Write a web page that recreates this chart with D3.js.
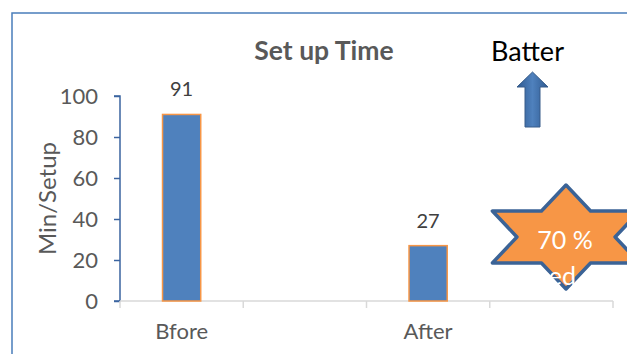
<!DOCTYPE html>
<html>
<head>
<meta charset="utf-8">
<script src="https://cdn.jsdelivr.net/npm/d3@7/dist/d3.min.js"></script>
<style>
  html, body { margin: 0; padding: 0; background: #ffffff; }
  svg { display: block; font-family: Lato, "Open Sans", sans-serif; }
</style>
</head>
<body>
<svg id="chart" width="627" height="354"></svg>
<script>
// Set-up time per changeover, before and after the improvement
const categories = ["Bfore", "", "After", ""];
const setupMinutes = [91, null, 27, null];
const yTicks = [0, 20, 40, 60, 80, 100];
const titleText = "Set up Time";
const yLabel = "Min/Setup";
const noteText = "Batter";
const badgeLines = ["70 %", "Reduced"];

const W = 627, H = 354;
const margin = { top: 96, right: 14, bottom: 53, left: 120 };

const svg = d3.select("#chart");

// chart frame
svg.append("rect")
  .attr("x", 12).attr("y", 13)
  .attr("width", 700).attr("height", 400)
  .attr("fill", "none")
  .attr("stroke", "#4a7ebb")
  .attr("stroke-width", 1.5);

const x = d3.scaleBand()
  .domain(d3.range(categories.length))
  .range([margin.left, W - margin.right])
  .padding(0);

const y = d3.scaleLinear()
  .domain([0, 100])
  .range([H - margin.bottom, margin.top]);

// title
svg.append("text")
  .attr("x", 324).attr("y", 60)
  .attr("text-anchor", "middle")
  .attr("font-size", 26.5).attr("font-weight", "bold")
  .attr("fill", "#595959")
  .text(titleText);

// y axis
const yAxis = svg.append("g")
  .attr("transform", `translate(${margin.left},0)`)
  .call(d3.axisLeft(y).tickValues(yTicks).tickSize(6).tickPadding(16));
yAxis.select(".domain").attr("stroke", "#3b64a0").attr("stroke-width", 1.5)
  .attr("d", `M-6,${y(100)}H0V${y(0)}H-6`);
yAxis.selectAll(".tick line").attr("stroke", "#3b64a0").attr("stroke-width", 1.5);
yAxis.selectAll(".tick text")
  .attr("font-size", 22).attr("fill", "#595959")
  .attr("font-family", "Lato, 'Open Sans', sans-serif");

// y axis title
svg.append("text")
  .attr("transform", `translate(56,${(y(0) + y(100)) / 2}) rotate(-90)`)
  .attr("text-anchor", "middle")
  .attr("font-size", 24).attr("fill", "#595959")
  .text(yLabel);

// x axis: baseline plus category boundary ticks
const xAxis = svg.append("g");
xAxis.append("line")
  .attr("x1", x.range()[0]).attr("x2", x.range()[1])
  .attr("y1", y(0)).attr("y2", y(0))
  .attr("stroke", "#d9d9d9").attr("stroke-width", 1.5);
const bounds = d3.range(categories.length).map(i => x(i)).concat([x.range()[1]]);
xAxis.selectAll("line.bound")
  .data(bounds)
  .join("line")
  .attr("class", "bound")
  .attr("x1", d => d).attr("x2", d => d)
  .attr("y1", y(0)).attr("y2", y(0) + 7)
  .attr("stroke", "#d9d9d9").attr("stroke-width", 1.5);
xAxis.selectAll("text")
  .data(categories)
  .join("text")
  .attr("x", (d, i) => x(i) + x.bandwidth() / 2)
  .attr("y", y(0) + 38)
  .attr("text-anchor", "middle")
  .attr("font-size", 22).attr("fill", "#595959")
  .text(d => d);

// bars
const barW = x.bandwidth() * 0.31;
const barData = setupMinutes.map((v, i) => ({ i, v })).filter(d => d.v != null);
svg.append("g").selectAll("rect")
  .data(barData)
  .join("rect")
  .attr("x", d => x(d.i) + (x.bandwidth() - barW) / 2)
  .attr("y", d => y(d.v))
  .attr("width", barW)
  .attr("height", d => y(0) - y(d.v))
  .attr("fill", "#4f81bd")
  .attr("stroke", "#f79646")
  .attr("stroke-width", 1.5);

// value labels
svg.append("g").selectAll("text")
  .data(barData)
  .join("text")
  .attr("x", d => x(d.i) + x.bandwidth() / 2)
  .attr("y", d => y(d.v) - 18)
  .attr("text-anchor", "middle")
  .attr("font-size", 20).attr("fill", "#404040")
  .text(d => d.v);

// "Batter" note with upward arrow
svg.append("text")
  .attr("x", 527.5).attr("y", 61)
  .attr("text-anchor", "middle")
  .attr("font-size", 27).attr("fill", "#000000")
  .text(noteText);

const defs = svg.append("defs");
const grad = defs.append("linearGradient").attr("id", "arrowFill")
  .attr("x1", "0%").attr("x2", "100%").attr("y1", "0%").attr("y2", "0%");
grad.append("stop").attr("offset", "0%").attr("stop-color", "#2f5a91");
grad.append("stop").attr("offset", "50%").attr("stop-color", "#4f81bd");
grad.append("stop").attr("offset", "100%").attr("stop-color", "#2f5a91");

const ax = 532.5;
svg.append("path")
  .attr("d", d3.line()([
    [ax, 72], [ax + 15.5, 87], [ax + 7.5, 87], [ax + 7.5, 127],
    [ax - 7.5, 127], [ax - 7.5, 87], [ax - 15.5, 87]
  ]) + "Z")
  .attr("fill", "url(#arrowFill)")
  .attr("stroke", "#385d8a")
  .attr("stroke-width", 1);

// six-pointed badge
const cx = 566, cy = 237, rx = 85, ry = 52;
const starPts = d3.range(12).map(k => {
  const a = -Math.PI / 2 + k * Math.PI / 6;
  const s = k % 2 === 0 ? 1 : 1 / Math.sqrt(3);
  return [cx + rx * s * Math.cos(a), cy + ry * s * Math.sin(a)];
});
svg.append("path")
  .attr("d", d3.line()(starPts) + "Z")
  .attr("fill", "#f79646")
  .attr("stroke", "#3b6396")
  .attr("stroke-width", 3.5)
  .attr("stroke-linejoin", "round");

svg.append("text")
  .attr("x", 565).attr("y", 249)
  .attr("text-anchor", "middle")
  .attr("font-size", 25).attr("fill", "#ffffff")
  .text(badgeLines[0]);
svg.append("text")
  .attr("x", 576).attr("y", 285)
  .attr("text-anchor", "end")
  .attr("font-size", 25).attr("fill", "#ffffff")
  .text(badgeLines[1]);
</script>
</body>
</html>
